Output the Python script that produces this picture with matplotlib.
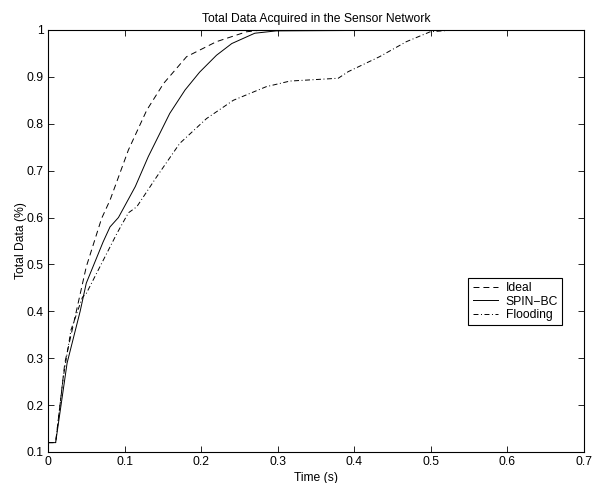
import matplotlib
matplotlib.use("Agg")
import matplotlib.pyplot as plt

plt.rcParams["font.family"] = ["Liberation Sans", "DejaVu Sans"]

# values
ideal_t = [0, 0.01, 0.022, 0.037, 0.05, 0.07, 0.081, 0.105, 0.129, 0.151,
           0.181, 0.22, 0.259, 0.28, 0.53]
ideal_y = [0.12, 0.12, 0.29, 0.40, 0.495, 0.598, 0.637, 0.744, 0.829, 0.886,
           0.943, 0.975, 0.996, 1.0, 1.0]

spin_t = [0, 0.01, 0.025, 0.042, 0.05, 0.072, 0.081, 0.092, 0.114, 0.131,
          0.159, 0.179, 0.198, 0.22, 0.24, 0.27, 0.298, 0.53]
spin_y = [0.12, 0.12, 0.29, 0.40, 0.46, 0.548, 0.58, 0.60, 0.666, 0.73,
          0.822, 0.872, 0.91, 0.946, 0.971, 0.993, 0.998, 1.0]

flood_t = [0, 0.01, 0.02, 0.03, 0.045, 0.05, 0.09, 0.105, 0.116, 0.142,
           0.172, 0.207, 0.242, 0.285, 0.316, 0.379, 0.392, 0.433, 0.468,
           0.499, 0.53]
flood_y = [0.12, 0.12, 0.26, 0.36, 0.43, 0.438, 0.566, 0.61, 0.623, 0.687,
           0.758, 0.811, 0.85, 0.879, 0.891, 0.897, 0.911, 0.943, 0.975,
           0.996, 1.0]

fs = 8.7
fig = plt.figure(figsize=(5.96, 4.83), dpi=100)
ax = fig.add_axes([0.0805, 0.0642, 0.8995, 0.8738])

ax.plot(ideal_t, ideal_y, color="k", lw=0.7, dashes=(6.1, 4.1), label="Ideal")
ax.plot(spin_t, spin_y, color="k", lw=0.7, ls="-", label="SPIN\u2212BC")
ax.plot(flood_t, flood_y, color="k", lw=0.7, dashes=(5.1, 2.6, 1, 2.6),
        label="Flooding")

ax.set_xlim(0, 0.7)
ax.set_ylim(0.1, 1)
ax.set_xticks([0, 0.1, 0.2, 0.3, 0.4, 0.5, 0.6, 0.7])
ax.set_xticklabels(["0", "0.1", "0.2", "0.3", "0.4", "0.5", "0.6", "0.7"])
ax.set_yticks([0.1, 0.2, 0.3, 0.4, 0.5, 0.6, 0.7, 0.8, 0.9, 1.0])
ax.set_yticklabels(["0.1", "0.2", "0.3", "0.4", "0.5", "0.6", "0.7", "0.8", "0.9", "1"])
ax.tick_params(direction="in", top=True, right=True, length=4, width=0.6,
               labelsize=fs, pad=3)
for s in ax.spines.values():
    s.set_linewidth(0.8)

ax.set_title("Total Data Acquired in the Sensor Network", fontsize=fs, pad=6)
ax.set_xlabel("Time (s)", fontsize=fs, labelpad=3)
ax.set_ylabel("Total Data (%)", fontsize=fs, labelpad=0)

leg = ax.legend(loc="upper left", bbox_to_anchor=(0.784, 0.412), fontsize=fs,
                handlelength=2.1, handletextpad=0.65, borderpad=0.35,
                labelspacing=0.1, fancybox=False, framealpha=1,
                edgecolor="black", borderaxespad=0)
leg.get_frame().set_linewidth(0.8)

fig.savefig("out.png", dpi=100)
